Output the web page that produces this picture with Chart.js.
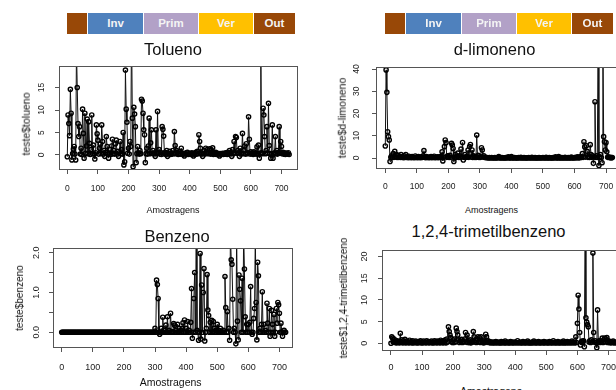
<!DOCTYPE html>
<html>
<head>
<meta charset="utf-8">
<script src="https://cdn.jsdelivr.net/npm/chart.js@4.4.1/dist/chart.umd.min.js"></script>
<style>
  body { margin: 0; width: 616px; height: 390px; overflow: hidden; background: #fff; position: relative;
         font-family: "Liberation Sans", Arial, Helvetica, sans-serif; }
  canvas { position: absolute; }
  .faixa { position: absolute; top: 13px; height: 21px; display: flex; }
  .faixa div { height: 21px; margin-right: 1px; color: #f4f4f4; font-weight: bold; font-size: 11.5px;
               line-height: 21px; text-align: center; }
  .txt { position: absolute; white-space: nowrap; color: #111; transform: translate(-50%, -50%); line-height: 1; }
  .rot { transform: translate(-50%, -50%) rotate(-90deg); }
</style>
</head>
<body>
<script>
// amostragens a cada 2,5 unidades do eixo x (0, 2.5, 5, ...)
var PASSO = 2.5;

var ticksX = [0, 100, 200, 300, 400, 500, 600, 700];
var rotulosX = ['0', '100', '200', '300', '400', '500', '600', '700'];

var estacoes = ['', 'Inv', 'Prim', 'Ver', 'Out'];
var coresEstacoes = ['#984807', '#4f81bd', '#b2a1c7', '#ffc000', '#984807'];

var tolueno = [
  -0.4, 8.9, 7.0, 4.3, 14.6, 9.3, -1.1, 0.3, 1.3, 1.9, 0.2, -1.1, 24, 15.0, 7.0, 4.1, 6.3, 0.2, 1.5, 0.1,
  10.2, 4.8, -0.7, 9.3, 0.4, 2.0, 8.0, 0.3, 7.4, 2.6, 0.1, 1.2, 8.9, 0.3, 2.2, 0.2, -0.9, 0.5, 6.7, 4.7,
  3.3, 0.2, 1.5, 2.4, 0.3, 6.7, 3.0, 0.2, 1.0, -0.3, 0.6, 4.1, 1.9, 0.2, -0.7, 0.4, 1.2, 0.1, 2.0, 3.5,
  0.3, 1.0, 0.2, 2.5, 3.3, 0.2, 0.8, -0.3, 0.5, 3.0, 0.3, 1.2, 0.2, 5.0, -2.2, -1.5, 18.9, 10.2, 7.3, 0.4,
  1.5, 0.2, 3.0, 1.9, 30, 8.2, -2.6, 10.6, 9.1, 6.3, -1.7, 0.3, 1.9, 0.5, 0.2, 1.0, 0.3, 12.4, 12.0, 9.3,
  5.6, 4.5, -1.7, 0.3, 1.5, 0.2, 2.0, 8.2, 0.3, 2.7, 5.6, 0.4, 1.0, 0.2, 0.5, -0.3, 5.6, 0.3, 9.7, 0.5,
  1.2, 0.2, 0.6, 0.1, 6.3, 5.7, 4.2, 0.3, 0.6, 0.1, 1.0, -0.3, 0.4, 0.2, 0.8, 0.1, 0.4, 0.2, 1.0, 0.3,
  5.2, 2.1, 0.3, 1.0, 0.6, 0.1, 0.3, 0.8, 0.2, 1.5, 0.3, 0.1, 0.4, -0.2, 0.3, 0.2, 0.5, 0.6, 0.1, 0.2,
  0.4, 0.1, 0.3, 0.5, 0.2, -0.2, 0.3, 0.1, 0.6, 0.2, 0.8, 0.3, 4.5, 3.0, 1.5, 0.2, 0.4, -0.3, 0.3, 1.0,
  0.2, 1.5, 0.4, 1.2, 0.3, 0.5, 1.4, 0.2, 1.2, 0.3, 1.6, 0.1, 0.5, 0.3, 0.6, 0.1, 0.4, 0.2, 0.3, -0.2,
  0.3, 0.1, 0.2, 0.4, 0.1, 0.3, 0.2, 0.5, 0.3, 0.1, 0.6, 0.2, 1.0, 0.3, 0.4, -0.3, 1.2, 0.3, 3.0, 0.5,
  4.1, 3.9, 0.4, 1.0, 0.5, -0.3, 1.5, 0.2, 0.4, 4.8, 0.3, 1.0, 2.0, 0.2, 2.5, 0.3, 0.5, 8.5, 3.5, 0.2,
  0.7, 0.3, 0.5, 0.1, 0.7, 0.3, 0.5, 0.2, 1.8, 0.3, 2.2, -0.7, 0.4, 24, 0.5, 0.3, 10.4, 8.9, 4.1, 0.3,
  1.0, 6.3, 0.4, 11.5, 2.1, 0.3, -0.7, 0.2, 6.7, -0.7, 0.3, 0.5, 4.1, 0.3, 1.0, 0.2, 0.6, 6.3, 0.4, 3.0,
  1.9, 0.3, 0.6, 0.2, 0.5, 0.1, 0.3, 0.4, 0.2, 0.5, 0.1
];

var limoneno = [
  5.4, 39.6, 29.5, 11.8, 9.6, 8.1, -1.6, 0.3, 1.0, 0.2, 2.0, 0.3, 3.0, 0.5, 1.5, 0.2, 1.2, 0.3, 0.8, 0.2,
  1.5, 0.3, 0.6, 0.1, 1.0, 0.2, 1.5, 0.3, 0.5, 0.1, 0.8, 0.2, 0.4, 0.1, 0.6, 0.2, 0.3, 0.1, 0.9, 0.2,
  0.4, 0.1, 0.6, 0.2, 0.3, 0.1, 0.5, 0.2, 1.0, 3.3, 0.4, 0.1, 0.6, 0.2, 0.4, 0.1, 0.3, 0.2, 0.6, 0.1,
  0.4, 0.2, 0.8, 0.1, 0.3, 0.2, 0.5, 0.1, 0.4, 0.2, 0.6, 0.3, 2.8, -1.3, 0.4, 5.1, 8.1, 6.9, 0.3, 1.0,
  0.5, 0.2, 1.2, 0.3, 6.6, 5.8, 4.3, -1.6, 0.4, 1.5, 0.2, 0.8, 2.2, 0.3, 1.0, 0.2, 4.0, 0.4, 7.0, -0.9,
  0.3, 1.5, 0.2, 0.6, 0.4, 3.6, 0.3, 5.1, 6.1, 0.4, 3.6, 0.2, 1.0, 0.3, 0.6, 0.2, 10.3, 0.4, 1.2, 0.2,
  0.5, 0.3, 4.6, 3.6, 0.4, 1.0, 0.2, 0.3, 0.1, 0.2, 0.1, 0, 0.2, 0, 0.1, 0.2, 0, 0.1, 0, 0.2,
  0, 0.1, 0, 0.2, 0.6, 0, 0.1, 0, 0.2, 0, 0.1, 0, 0, 0.2, 0, 0.1, 0.5, 0, 0.1, 0,
  0.6, 0, 0.1, 0, 0.2, 0, 0.1, 0, 0, 0.2, 0.1, 0, 0.3, 0, 0.1, 0, 0.2, 0, 0.1, 0,
  0, 0.1, 0.2, 0, 0.1, 0, 0.3, 0, 0.1, 0, 0.2, 0, 0, 0.1, 0, 0.2, 0, 0.1, 0, 0.1,
  0.2, 0, 0.1, 0, 0.3, 0, 0.1, 0, 0.2, 0, 0.1, 0, 0, 0.2, 0, 0.1, 0.5, 0, 0.1, 0,
  0.6, 0, 0.1, 0, 0.2, 0, 0.1, 0, 0.3, 0, 0.1, 0, 0.2, 0, 0.1, 0, 0.4, 0, 0.1, 0,
  0.2, 0, 0.3, 0.1, 0.5, 0, 0.3, 0.1, 0.6, 0.2, 2.0, 0.3, 7.3, 5.0, 0.4, 5.5, 3.0, 0.3, 0.8, 0.2,
  6.0, 1.5, 0.3, 1.0, -2.4, 0.4, 25.3, 0.3, 1.0, 0.2, 60, -3.4, 0.5, 1.5, 0.2, -2.1, 60, 9.6, 7.3, 3.6,
  6.9, 2.8, 0.3, 0.5, 0.2, 0.1, 0.3, 0, 0.2
];

var benzeno = [
  0, 0, 0, 0, 0, 0, 0, 0, 0, 0, 0, 0, 0, 0, 0, 0, 0, 0, 0, 0,
  0, 0, 0, 0, 0, 0, 0, 0, 0, 0, 0, 0, 0, 0, 0, 0, 0, 0, 0, 0,
  0, 0, 0, 0, 0, 0, 0, 0, 0, 0, 0, 0, 0, 0, 0, 0, 0, 0, 0, 0,
  0, 0, 0, 0, 0, 0, 0, 0, 0, 0, 0, 0, 0, 0, 0, 0, 0, 0, 0, 0,
  0, 0, 0, 0, 0, 0, 0, 0, 0, 0, 0, 0, 0, 0, 0, 0, 0, 0, 0, 0,
  0, 0, 0, 0, 0, 0, 0, 0, 0, 0, 0, 0, 0, 0, 0, 0, 0, 0, 0, 0,
  0.1, 0, 1.31, 1.2, 0.85, 0, -0.05, 0, 0.1, 0, 0.38, 0, 0.05, 0, 0.18, 0, 0.39, 0, 0.05, 0,
  0.48, 0, 0.02, 0, 0.22, 0.18, 0, 0.05, 0, 0.2, 0, 0.1, 0, 0.05, 0, 0.1, 0.24, 0, 0.31, 0,
  0.1, 0, 0.27, 0, 0.05, 0, 0.25, 1.1, -0.15, 0, 0.85, 1.5, 0, 2.5, 0.05, 0, -0.2, 0, 1.98, -0.17,
  1.19, 0, 1.0, 1.6, -0.22, 0, 0.1, 1.45, 0.56, 0.42, 0, 0.25, 0, 0.3, 0, 0.27, 0.1, 0, 0.05, 0,
  0.2, 0, 0.05, 0, 0.1, 0, 0.02, 0, 0.05, 0, 1.4, 0.62, 0, 0.52, 0, 0.1, -0.2, 2.5, 1.82, 1.71,
  0.83, 0, 0.1, 0, -0.29, 2.5, 0.28, -0.19, 1.44, 1.08, 0.79, 0, 1.36, 0, 2.5, 1.59, 0.39, 0, 0.2, 0,
  0.2, 0, 0.25, 1.15, 0, -0.05, 0, 0.35, 0.6, 2.4, 0.75, -0.19, 1.76, 1.42, 0, 0.1, 0, 0.2, 1.02, 0,
  0.2, 0, 0.05, 0, 0.73, 0.23, 0, 0.6, -0.1, 0, 0.55, 0.2, 0, 0.45, -0.1, 0, 0.6, 0.23, 0.75, 0.69,
  0.48, 0, 0.23, 0, -0.1, 0, 0.05, 0, 0
];

var trimetilbenzeno = [
  0, 1.5, 1.2, 0.3, 1.0, 0.2, 0.5, 0.1, 0.6, 0.2, 0.4, 0.1, 2.3, 0.3, 0.8, 0.1, 0.6, 0.2, 0.9, 0.1,
  0.5, 0.2, 0.3, 0.1, 0.7, 0.2, 0.4, 0.1, 0.6, 0.1, 0.3, 0.2, 0.5, 0.1, 0.3, 0.1, 0.4, 0.2, 0.6, 0.1,
  0.3, 0.1, 0.5, 0.2, 0.3, 0.1, 0.6, 0.2, 0.4, 0.1, 0.3, 0.2, 0.5, 0.1, 0.3, 0.1, 0.6, 0.2, 0.4, 0.1,
  0.5, 0.2, 0.4, 0.1, 0.7, 0.2, 0.5, 0.1, 0.6, 0.2, 0.8, 0.1, 1.0, 0.3, 3.8, 2.7, 1.9, 1.3, 0.4, 0.2,
  0.8, 0.2, 1.0, 0.3, 3.5, 2.7, 1.9, 0.8, 0.2, 0.6, 0.3, 0.9, 0.2, 0.5, 0.3, 1.0, 2.5, 0.3, 1.9, 0.2,
  0.6, 0.2, 0.8, 0.1, 0.5, 0.3, 2.7, 1.5, 0.3, 0.6, 0.2, 1.0, 1.5, 0.3, 1.3, 0.2, 1.5, 0.3, 0.6, 0.1,
  0.5, 0.2, 2.1, 1.5, 0.3, 0.6, 0.2, 0.4, 0.1, 0.3, 0.2, 0.1, 0.3, 0.1, 0.2, 0.4, 0.1, 0.2, 0.3, 0.1,
  0.2, 0.1, 0.4, 0.1, 0.3, 0.2, 0.1, 0.5, 0.1, 0.2, 0.3, 0.1, 0.2, 0.1, 0.4, 0.2, 0.1, 0.3, 0.1, 0.2,
  0.3, 0.1, 0.2, 0.6, 0.1, 0.2, 0.3, 0.1, 0.2, 0.1, 0.4, 0.2, 0.1, 0.3, 0.1, 0.2, 0.5, 0.1, 0.2, 0.1,
  0.2, 0.1, 0.3, 0.1, 0.5, 0.2, 0.1, 0.3, 0.1, 0.2, 0.4, 0.1, 0.2, 0.1, 0.3, 0.2, 0.1, 0.4, 0.1, 0.2,
  0.3, 0.1, 0.2, 0.1, 0.4, 0.2, 0.1, 0.3, 0.1, 0.6, 0.2, 0.1, 0.3, 0.1, 0.2, 0.4, 0.1, 0.2, 0.1, 0.3,
  0.2, 0.1, 0.5, 0.1, 0.3, 0.1, 0.2, 0.4, 0.1, 0.2, 0.3, 0.1, 0.2, 0.5, 0.1, 0.3, 0.2, 0.1, 1.5, 0.2,
  4.6, 11.1, 7.9, 2.5, -0.4, 0.3, 0.5, 0.2, 0.6, -0.8, 30, 5.9, 4.9, 4.3, 3.8, 0.3, 0.6, 0.2, 0.8, 0.3,
  20.8, 2.5, 0.3, 0.6, 0.2, -1.0, 7.7, 0.3, 0.6, 0.2, 0.5, 0.3, 1.2, 0.2, 0.8, 1.2, 0.3, 1.0, 1.3, 0.2,
  0.6, 0.2, 0.4, 0.1, 0.3, 0.2, 0.5, 0.1, 0.3, 0.2, 0.1
];

var ticksYTolueno = [0, 5, 10, 15];
var rotulosYTolueno = ['0', '5', '10', '15'];
var ticksYLimoneno = [0, 10, 20, 30, 40];
var rotulosYLimoneno = ['0', '10', '20', '30', '40'];
var ticksYBenzeno = [0, 0.5, 1, 1.5, 2];
var rotulosYBenzeno = ['0.0', '', '1.0', '', '2.0'];
var ticksYTrimetil = [0, 5, 10, 15, 20];
var rotulosYTrimetil = ['0', '5', '10', '15', '20'];

// layout: box = area do grafico [esq, topo, dir, base], canvas = [x, y, larg, alt]
var paineis = [
  { serie: tolueno, titulo: 'Tolueno', tituloXY: [173, 48.5], eixoY: 'teste$tolueno', eixoYXY: [25.5, 124], fonteY: 10.5,
    eixoXXY: [173, 209.5], fonteX: 9, faixaX: 67,
    box: [59, 66, 298, 170], canvas: [0, 56, 306, 140], x: [-27.1, 754], y: [-3.34, 19.8],
    ticksY: ticksYTolueno, rotulosY: rotulosYTolueno, fonteTick: 8.5, distX: 19, distY: 17 },
  { serie: limoneno, titulo: 'd-limoneno', tituloXY: [494.5, 48.5], eixoY: 'teste$d-limoneno', eixoYXY: [341.8, 117.5], fonteY: 10.5,
    eixoXXY: [491.5, 209.5], fonteX: 9, faixaX: 385,
    box: [376, 67, 622, 169], canvas: [310, 57, 320, 140], x: [-29.5, 750.7], y: [-4.94, 40.9],
    ticksY: ticksYLimoneno, rotulosY: rotulosYLimoneno, fonteTick: 8.5, distX: 18, distY: 19 },
  { serie: benzeno, titulo: 'Benzeno', tituloXY: [177, 235.5], eixoY: 'teste$benzeno', eixoYXY: [20, 298.3], fonteY: 10,
    eixoXXY: [170.7, 381.5], fonteX: 10.5, faixaX: null,
    box: [53, 248, 293, 348], canvas: [0, 238, 306, 142], x: [-28, 743.7], y: [-0.394, 2.118],
    ticksY: ticksYBenzeno, rotulosY: rotulosYBenzeno, fonteTick: 9, distX: 20, distY: 16 },
  { serie: trimetilbenzeno, titulo: '1,2,4-trimetilbenzeno', tituloXY: [488.5, 230.5], eixoY: 'teste$1,2,4-trimetilbenzeno', eixoYXY: [344.3, 298], fonteY: 10,
    eixoXXY: [491, 390.5], fonteX: 10.5, faixaX: null,
    box: [382, 250, 625, 351], canvas: [310, 240, 320, 142], x: [-28.9, 752], y: [-1.776, 21.52],
    ticksY: ticksYTrimetil, rotulosY: rotulosYTrimetil, fonteTick: 9, distX: 17, distY: 17 }
];
var LARGURAS_FAIXA = [20, 55, 54, 54, 41];

var rotulosPlugin = {
  id: 'rotulos',
  afterDraw: function(chart, args, opts) {
    var ctx = chart.ctx, a = chart.chartArea;
    var sx = chart.scales.x, sy = chart.scales.y;
    ctx.save();
    ctx.fillStyle = '#1a1a1a';
    ctx.font = opts.fonte + 'px "Liberation Sans", Arial, sans-serif';
    ctx.textAlign = 'center';
    ctx.textBaseline = 'middle';
    sx.ticks.forEach(function(t, i) {
      ctx.fillText(rotulosX[i], sx.getPixelForValue(t.value), a.bottom + opts.distX);
    });
    sy.ticks.forEach(function(t, i) {
      if (!opts.rotulosY[i]) return;
      ctx.save();
      ctx.translate(a.left - opts.distY, sy.getPixelForValue(t.value));
      ctx.rotate(-Math.PI / 2);
      ctx.fillText(opts.rotulosY[i], 0, 0);
      ctx.restore();
    });
    ctx.strokeStyle = '#555';
    ctx.lineWidth = 1;
    ctx.strokeRect(Math.round(a.left) + 0.5, Math.round(a.top) + 0.5,
                   Math.round(a.right - a.left) - 1, Math.round(a.bottom - a.top) - 1);
    ctx.restore();
  }
};

function texto(str, xy, tam, rot) {
  var d = document.createElement('div');
  d.className = 'txt' + (rot ? ' rot' : '');
  d.textContent = str;
  d.style.left = xy[0] + 'px';
  d.style.top = xy[1] + 'px';
  d.style.fontSize = tam + 'px';
  document.body.appendChild(d);
}

function faixa(x) {
  var f = document.createElement('div');
  f.className = 'faixa';
  f.style.left = x + 'px';
  estacoes.forEach(function(e, i) {
    var s = document.createElement('div');
    s.style.width = LARGURAS_FAIXA[i] + 'px';
    s.style.background = coresEstacoes[i];
    s.textContent = e;
    f.appendChild(s);
  });
  document.body.appendChild(f);
}

function criarPainel(p) {
  var cv = document.createElement('canvas');
  cv.width = p.canvas[2];
  cv.height = p.canvas[3];
  cv.style.left = p.canvas[0] + 'px';
  cv.style.top = p.canvas[1] + 'px';
  document.body.appendChild(cv);

  var larguraY = p.box[0] - p.canvas[0];
  var alturaX = p.canvas[1] + p.canvas[3] - p.box[3];
  var pontos = p.serie.map(function(v, i) { return { x: i * PASSO, y: v }; });

  new Chart(cv.getContext('2d'), {
    type: 'line',
    data: {
      datasets: [{
        data: pontos,
        borderColor: '#111',
        borderWidth: 1,
        tension: 0,
        pointRadius: 2.1,
        pointBorderWidth: 1.4,
        pointBorderColor: '#000',
        pointBackgroundColor: 'rgba(0,0,0,0)'
      }]
    },
    options: {
      animation: false,
      responsive: false,
      events: [],
      layout: { padding: { left: 0, top: p.box[1] - p.canvas[1], right: p.canvas[0] + p.canvas[2] - p.box[2], bottom: 0 } },
      plugins: {
        legend: { display: false },
        tooltip: { enabled: false },
        rotulos: { fonte: p.fonteTick, distX: p.distX, distY: p.distY, rotulosY: p.rotulosY }
      },
      scales: {
        x: {
          type: 'linear', min: p.x[0], max: p.x[1],
          afterBuildTicks: function(s) { s.ticks = ticksX.map(function(v) { return { value: v }; }); },
          afterFit: function(s) { s.height = alturaX; },
          ticks: { display: false },
          grid: { drawOnChartArea: false, tickLength: 4, color: '#555', lineWidth: 1 },
          border: { display: false }
        },
        y: {
          type: 'linear', min: p.y[0], max: p.y[1],
          afterBuildTicks: function(s) { s.ticks = p.ticksY.map(function(v) { return { value: v }; }); },
          afterFit: function(s) { s.width = larguraY; },
          ticks: { display: false },
          grid: { drawOnChartArea: false, tickLength: 4, color: '#555', lineWidth: 1 },
          border: { display: false }
        }
      }
    },
    plugins: [rotulosPlugin]
  });

  texto(p.titulo, p.tituloXY, 16.5, false);
  texto(p.eixoY, p.eixoYXY, p.fonteY, true);
  texto('Amostragens', p.eixoXXY, p.fonteX, false);
  if (p.faixaX !== null) faixa(p.faixaX);
}

paineis.forEach(criarPainel);
</script>
</body>
</html>
